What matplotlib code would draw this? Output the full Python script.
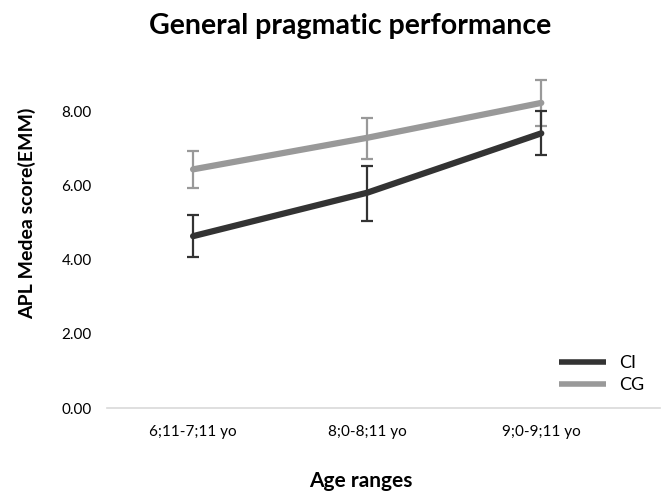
import numpy as np
import matplotlib
matplotlib.use("Agg")
import matplotlib.pyplot as plt

# values (EMM with CI bounds)
age_ranges = ["6;11-7;11 yo", "8;0-8;11 yo", "9;0-9;11 yo"]
ci_mean = [4.63, 5.80, 7.40]
ci_low = [4.07, 5.03, 6.82]
ci_high = [5.20, 6.53, 8.00]
cg_mean = [6.43, 7.28, 8.22]
cg_low = [5.93, 6.72, 7.61]
cg_high = [6.93, 7.82, 8.83]
y_ticks = [0, 2, 4, 6, 8]

plt.rcParams['font.family'] = ['Lato', 'DejaVu Sans']

fig = plt.figure(figsize=(6.65, 4.92), dpi=100)
ax = fig.add_axes([0.161, 0.1707, 0.832, 0.679])

x = np.arange(len(age_ranges))

def draw(mean, low, high, color, label):
    mean = np.array(mean)
    err = [mean - np.array(low), np.array(high) - mean]
    ax.errorbar(x, mean, yerr=err, fmt='none', ecolor=color, elinewidth=1.6,
                capsize=4.5, capthick=1.6, zorder=2)
    ax.plot(x, mean, color=color, lw=4.5, solid_capstyle='round',
            solid_joinstyle='round', label=label, zorder=3)

draw(cg_mean, cg_low, cg_high, '#999999', 'CG')
draw(ci_mean, ci_low, ci_high, '#333333', 'CI')

ax.set_xlim(-0.494, 2.684)
ax.set_ylim(0, 9)
ax.set_xticks(x)
ax.set_xticklabels(age_ranges, fontsize=11)
ax.set_yticks(y_ticks)
ax.set_yticklabels([f"{v:.2f}" for v in y_ticks], fontsize=11)
ax.tick_params(axis='y', length=0, pad=11)
ax.tick_params(axis='x', length=0, pad=12)

for s in ['top', 'right', 'left']:
    ax.spines[s].set_visible(False)
ax.spines['bottom'].set_color('#d9d9d9')
ax.spines['bottom'].set_linewidth(1.2)

handles, labels = ax.get_legend_handles_labels()
leg = ax.legend(handles[::-1], labels[::-1], loc='lower right',
                bbox_to_anchor=(1.0, -0.005), frameon=False, fontsize=13,
                handlelength=2.6, handletextpad=0.7, labelspacing=0.35)
for h in leg.get_lines():
    h.set_linewidth(4)
    h.set_solid_capstyle('butt')

fig.text(0.527, 0.948, "General pragmatic performance", ha='center', va='center',
         fontsize=20.5, fontweight='bold')
fig.text(0.542, 0.022, "Age ranges", ha='center', va='center',
         fontsize=15, fontweight='bold')
fig.text(0.041, 0.567, "APL Medea score(EMM)", ha='center', va='center',
         rotation=90, fontsize=14, fontweight='bold')

fig.savefig("out.png", dpi=100)
